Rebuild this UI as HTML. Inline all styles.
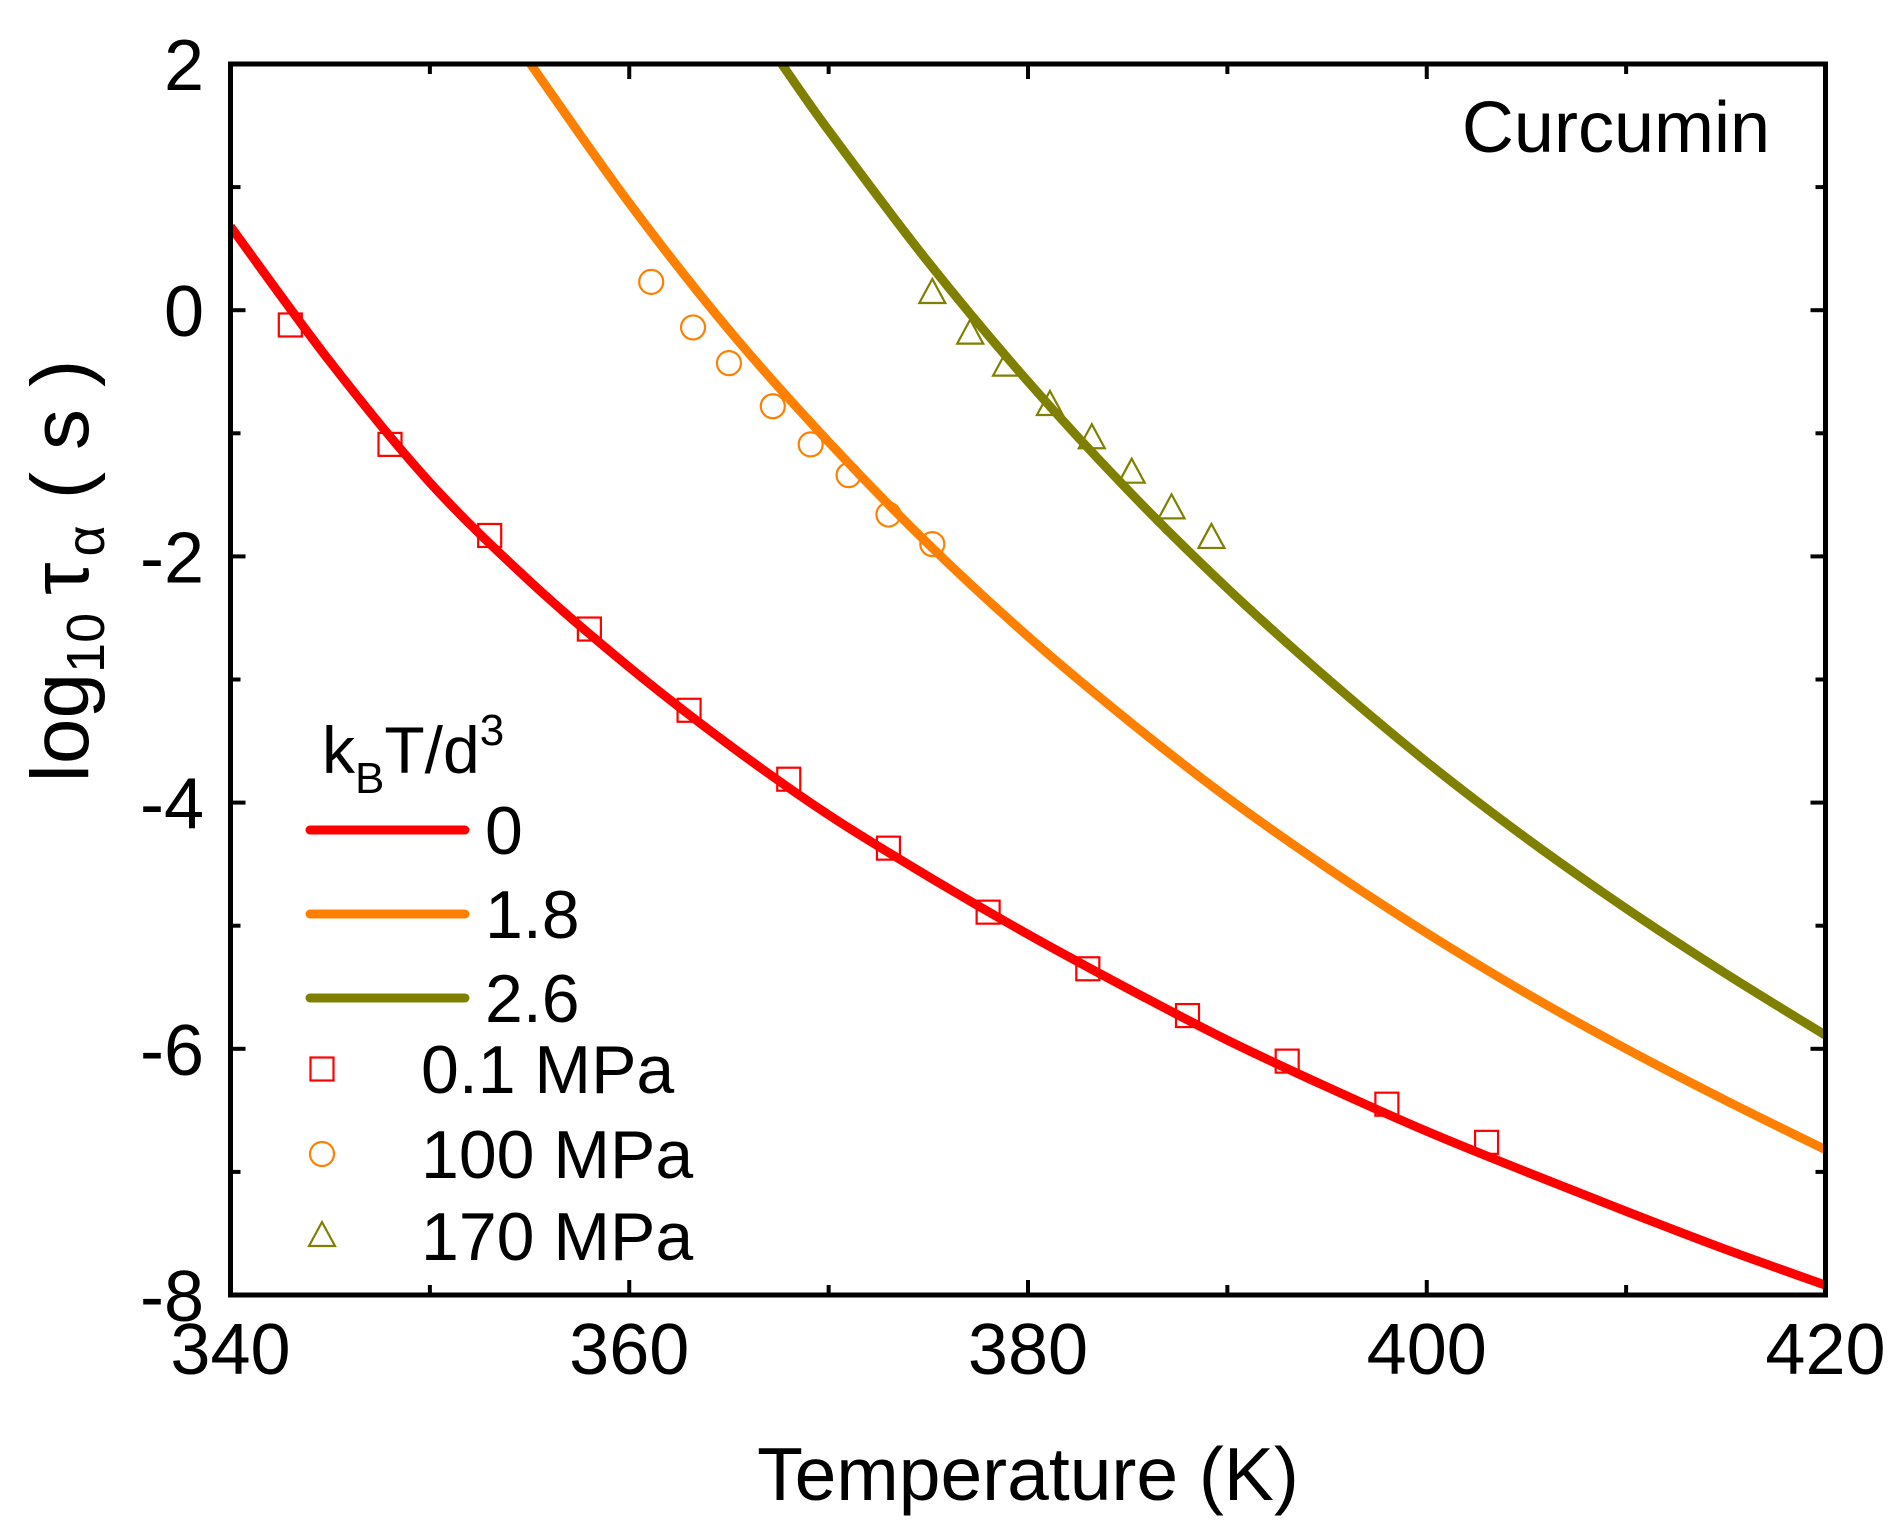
<!DOCTYPE html>
<html><head><meta charset="utf-8"><style>
html,body{margin:0;padding:0;background:#fff;}
svg{display:block;font-family:"Liberation Sans",Arial,sans-serif;}
</style></head><body>
<svg id="chart" width="1903" height="1532" viewBox="0 0 1903 1532">
<g id="plot"></g>
<g id="axes"></g>
<text x="1028" y="1500" font-size="75" text-anchor="middle">Temperature (K)</text>
<text transform="translate(88,560) rotate(-90)" font-size="82" text-anchor="middle">log<tspan font-size="54" dy="16">10</tspan><tspan dy="-16" dx="18">τ</tspan><tspan font-size="54" dy="16" dx="6">α</tspan><tspan dy="-16" dx="26" letter-spacing="22">(s)</tspan></text>
<text x="1770" y="152" font-size="72" text-anchor="end">Curcumin</text>
<g id="legend">
<text x="322" y="773" font-size="66">k<tspan font-size="44" dy="20">B</tspan><tspan dy="-20">T/d</tspan><tspan font-size="44" dy="-28">3</tspan></text>
</g>
</svg>
<script>
const xTicks=[340,360,380,400,420];
const yTicks=[2,0,-2,-4,-6,-8];
const sqT=[343,348,353,358,363,368,373,378,383,388,393,398,403];
const sqV=[-0.12,-1.09,-1.83,-2.59,-3.25,-3.81,-4.37,-4.89,-5.35,-5.73,-6.10,-6.45,-6.76];
const ciT=[361.1,363.2,365.0,367.2,369.1,371.0,373.0,375.2];
const ciV=[0.23,-0.14,-0.43,-0.78,-1.09,-1.34,-1.66,-1.90];
const trT=[375.2,377.1,378.9,381.1,383.2,385.2,387.2,389.2];
const trV=[0.14,-0.19,-0.45,-0.77,-1.04,-1.32,-1.61,-1.85];
const redT=[340,345,350,355,360,365,370,375,380,385,390,395,400,405,410,415,420];
const redV=[0.68,-0.42,-1.4,-2.2,-2.9,-3.53,-4.1,-4.6,-5.07,-5.51,-5.93,-6.31,-6.67,-7.0,-7.32,-7.63,-7.92];
const orT=[355.05,360,365,370,375,380,385,390,395,400,405,410,415,420];
const orV=[2.0,0.87,-0.16,-1.07,-1.90,-2.65,-3.33,-3.96,-4.53,-5.06,-5.55,-6.00,-6.42,-6.82];
const olT=[367.65,370,375,380,385,390,395,400,405,410,415,420];
const olV=[2.0,1.46,0.39,-0.58,-1.46,-2.26,-2.99,-3.67,-4.29,-4.86,-5.39,-5.89];
const legLines=["0","1.8","2.6"];
const legMarks=["0.1 MPa","100 MPa","170 MPa"];

const X0=230.5,X1=1825.5,Y0=64,Y1=1295;
const xs=t=>X0+(t-340)/80*(X1-X0);
const ys=v=>Y0+(2-v)/10*(Y1-Y0);
const NS="http://www.w3.org/2000/svg";
function mk(tag,attrs,parent){const e=document.createElementNS(NS,tag);for(const k in attrs)e.setAttribute(k,attrs[k]);parent.appendChild(e);return e;}
const plot=document.getElementById('plot'),axes=document.getElementById('axes'),legend=document.getElementById('legend');
const defs=mk('defs',{},plot);
const cp=mk('clipPath',{id:'clip'},defs);mk('rect',{x:X0,y:Y0,width:X1-X0,height:Y1-Y0},cp);

function curvePath(T,V){
  const p=T.map((t,i)=>[xs(t),ys(V[i])]);
  let d='M'+p[0][0]+','+p[0][1];
  for(let i=0;i<p.length-1;i++){
    const a=p[Math.max(0,i-1)],b=p[i],c=p[i+1],e=p[Math.min(p.length-1,i+2)];
    const c1=[b[0]+(c[0]-a[0])/6,b[1]+(c[1]-a[1])/6],c2=[c[0]-(e[0]-b[0])/6,c[1]-(e[1]-b[1])/6];
    d+=' C'+c1+' '+c2+' '+c;
  }
  return d;
}
const curves=[[redT,redV,'#ff0000','fit-curve-0'],[orT,orV,'#ff8000','fit-curve-1-8'],[olT,olV,'#808000','fit-curve-2-6']];
curves.forEach(c=>{
  const el=mk('path',{d:curvePath(c[0],c[1]),fill:'none',stroke:c[2],'stroke-width':9,'clip-path':'url(#clip)'},plot);
  
  
});
function square(cx,cy,col,parent){return mk('rect',{x:cx-11.5,y:cy-11.5,width:23,height:23,fill:'none',stroke:col,'stroke-width':2.2},parent);}
function circle(cx,cy,col,parent){return mk('circle',{cx:cx,cy:cy,r:12,fill:'none',stroke:col,'stroke-width':2.2},parent);}
function tri(cx,cy,col,parent){return mk('polygon',{points:(cx)+','+(cy-14)+' '+(cx-13)+','+(cy+10)+' '+(cx+13)+','+(cy+10),fill:'none',stroke:col,'stroke-width':2.2},parent);}
sqT.forEach((t,i)=>{const el=square(xs(t),ys(sqV[i]),'#ff0000',plot);
  
  });
ciT.forEach((t,i)=>{const el=circle(xs(t),ys(ciV[i]),'#ff8000',plot);
  
  });
trT.forEach((t,i)=>{const el=tri(xs(t),ys(trV[i]),'#808000',plot);
  
  });

const fr=mk('rect',{x:X0,y:Y0,width:X1-X0,height:Y1-Y0,fill:'none',stroke:'#000','stroke-width':5},axes);


for(let t=340;t<=420;t+=10){
  const x=xs(t),L=(t%20===0)?15:10;
  mk('line',{x1:x,y1:Y1,x2:x,y2:Y1-L,stroke:'#000','stroke-width':4},axes);
  mk('line',{x1:x,y1:Y0,x2:x,y2:Y0+L,stroke:'#000','stroke-width':4},axes);
}
for(let v=-8;v<=2;v+=1){
  const y=ys(v),L=(v%2===0)?15:10;
  mk('line',{x1:X0,y1:y,x2:X0+L,y2:y,stroke:'#000','stroke-width':4},axes);
  mk('line',{x1:X1,y1:y,x2:X1-L,y2:y,stroke:'#000','stroke-width':4},axes);
}
xTicks.forEach(t=>{const el=mk('text',{x:xs(t),y:1374,'font-size':72,'text-anchor':'middle'},axes);el.textContent=t;
  
  });
yTicks.forEach(v=>{const el=mk('text',{x:204,y:ys(v)+26,'font-size':72,'text-anchor':'end'},axes);el.textContent=v;
  
  });

const lcols=['#ff0000','#ff8000','#808000'];
const lineY=[830,914,998];
legLines.forEach((s,i)=>{
  const ln=mk('line',{x1:310,y1:lineY[i],x2:465,y2:lineY[i],stroke:lcols[i],'stroke-width':9,'stroke-linecap':'round'},legend);
  
  
  const tx=mk('text',{x:485,y:lineY[i]+24,'font-size':68},legend);tx.textContent=s;
  
  
});
const markY=[1069,1154,1236];
const mfns=[square,circle,tri];
legMarks.forEach((s,i)=>{
  const m=mfns[i](322,markY[i],lcols[i],legend);
  
  
  const tx=mk('text',{x:421,y:markY[i]+24,'font-size':68},legend);tx.textContent=s;
  
  
});
</script>
</body></html>
